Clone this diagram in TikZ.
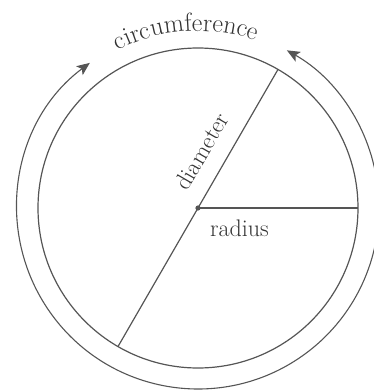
\documentclass[tikz,border=0pt]{standalone}
\usetikzlibrary{arrows.meta,decorations.text,calc}
\definecolor{linegray}{HTML}{555555}
\definecolor{textgray}{HTML}{333333}
\newcommand{\lblfont}{\fontsize{24}{29}\selectfont}
\newcommand{\arcfont}{\fontsize{26}{31}\selectfont}
\tikzset{
  circline/.style={draw=linegray, line width=1.2pt},
  arrowarc/.style={draw=linegray, line width=1.1pt, {Stealth[length=13pt,width=11pt,inset=3pt]}-{Stealth[length=13pt,width=11pt,inset=3pt]}},
  lbl/.style={text=textgray, font=\lblfont, inner sep=0pt}
}
\begin{document}
\begin{tikzpicture}[x=1pt,y=1pt]
\useasboundingbox (-198,-184) rectangle (176,208);
\coordinate (O) at (0,0);
\coordinate (A) at (60:160);
\coordinate (B) at (240:160);
\coordinate (R) at (0:160);
\draw[circline] (O) circle[radius=160];
\draw[circline] (A) -- (B);
\draw[circline] (O) -- (R);
\fill[linegray] (O) circle[radius=2.6];
\draw[arrowarc] (126.7:181) arc[start angle=126.7, end angle=420.6, radius=181];
\path[decorate, decoration={text along path, text align=center,
  text={|\arcfont\color{textgray}|circumference}}]
  (136:177) arc[start angle=136, end angle=52, radius=177];
\node[lbl, anchor=base] (rad) at (41.5,-28) {radius};
\node[lbl, anchor=base, rotate=60] (dia) at ($(60:51)+(150:17)$) {diameter};
\end{tikzpicture}
\end{document}
